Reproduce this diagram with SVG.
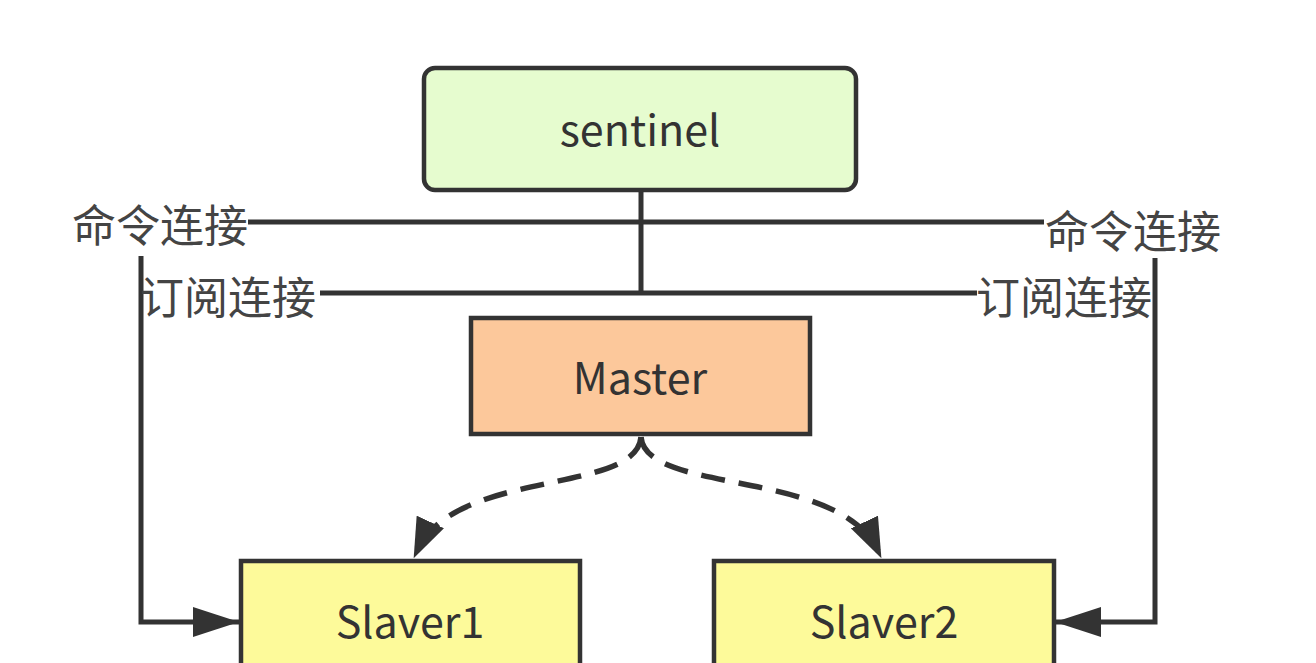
<svg xmlns="http://www.w3.org/2000/svg" width="1316" height="663" viewBox="0 0 1316 663">
<defs>
<style>
.box{stroke:#333;stroke-width:4.5}
.lbl{font-family:"Noto Sans CJK SC","Open Sans",sans-serif;font-size:43px;fill:#333;text-anchor:middle}
.lab{font-family:"Noto Sans CJK SC",sans-serif;font-size:44px;fill:#444}
.ln{fill:none;stroke:#333;stroke-width:5}
.dash{fill:none;stroke:#333;stroke-width:5.5;stroke-dasharray:24 14}
</style>
<marker id="ah" viewBox="0 0 46 30" refX="46" refY="15" markerWidth="46" markerHeight="30" markerUnits="userSpaceOnUse" orient="auto">
<path d="M0,0 L46,15 L0,30 z" fill="#333"/>
</marker>
<marker id="ah2" viewBox="0 0 40 30" refX="32" refY="15" markerWidth="40" markerHeight="30" markerUnits="userSpaceOnUse" orient="auto">
<path d="M0,0 L40,15 L0,30 z" fill="#333"/>
</marker>
</defs>
<rect width="1316" height="663" fill="#fff"/>
<g id="connectors">
<line class="ln" x1="641" y1="190" x2="641" y2="293"/>
<line class="ln" x1="248" y1="222" x2="1044" y2="222"/>
<line class="ln" x1="320" y1="293" x2="977" y2="293"/>
<path class="ln" d="M141,256 V622 H239" marker-end="url(#ah)"/>
<path class="ln" d="M1155,258 V622 H1055" marker-end="url(#ah)"/>
<path class="dash" d="M641,437 C636,495 455,468 417,551" marker-end="url(#ah2)"/>
<path class="dash" d="M641,437 C646,495 839,468 878,551" marker-end="url(#ah2)"/>
<text class="lab" x="72" y="242">命令连接</text>
<text class="lab" x="1045" y="248">命令连接</text>
<text class="lab" x="140" y="314">订阅连接</text>
<text class="lab" x="976" y="314">订阅连接</text>
</g>
<g id="sentinel">
<rect class="box" x="424" y="68" width="432" height="122" rx="11" fill="#e6fccf"/>
<text class="lbl" x="640" y="146">sentinel</text>
</g>
<g id="master">
<rect class="box" x="471" y="318" width="339" height="116" fill="#fcc89b"/>
<text class="lbl" x="640" y="394">Master</text>
</g>
<g id="slaver1">
<rect class="box" x="241" y="561" width="339" height="120" fill="#fdfa9a"/>
<text class="lbl" x="410" y="638">Slaver1</text>
</g>
<g id="slaver2">
<rect class="box" x="714" y="561" width="340" height="120" fill="#fdfa9a"/>
<text class="lbl" x="884" y="638">Slaver2</text>
</g>
</svg>
